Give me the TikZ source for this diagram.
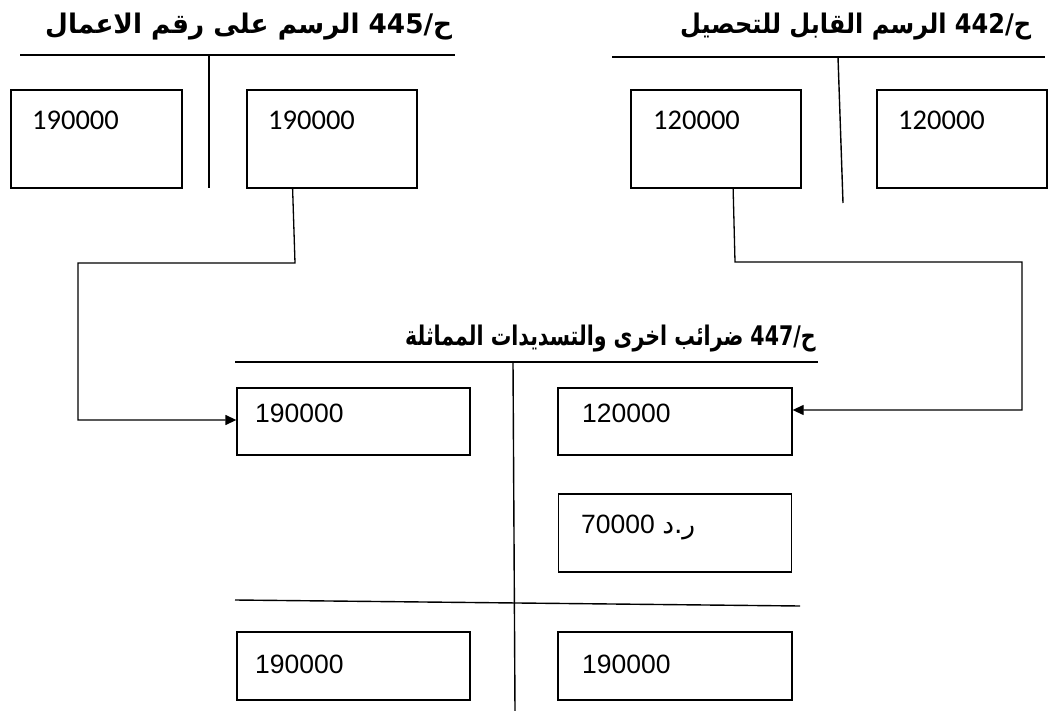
\documentclass[tikz,border=0pt]{standalone}
\usepackage{fontspec}
\usepackage{graphicx}
\setmainfont{Liberation Sans}
\newfontfamily\arab[Script=Arabic]{DejaVu Sans}
\newfontfamily\calfont{Carlito}
\TeXXeTstate=1
\usetikzlibrary{arrows.meta,calc}
\tikzset{
  acct/.style={draw, line width=1.3pt, inner sep=0pt},
  rule/.style={line width=1.4pt},
  conn/.style={line width=1.3pt},
  arr/.style={conn, -{Triangle[length=11pt,width=10pt]}},
  topnum/.style={anchor=base west, inner sep=0pt, font=\calfont\fontsize{28.5}{30}\selectfont},
  midnum/.style={anchor=base west, inner sep=0pt, font=\fontsize{26.5}{28}\selectfont},
  ttl/.style={anchor=base west, inner sep=0pt, font=\arab\bfseries\fontsize{27}{30}\selectfont}
}
\begin{document}
\begin{tikzpicture}[x=1pt,y=-1pt]
\useasboundingbox (0,0) rectangle (1052,711);
% ---------- Account 445 ----------
\node[ttl] (t445) at (45,34) {\scalebox{0.974}[1]{\beginR ح/445 الرسم على رقم الاعمال\endR}};
\coordinate (l445a) at (20,55);
\coordinate (l445b) at (455,55);
\draw[rule] (l445a) -- (l445b);
\coordinate (v445a) at (209,55);
\coordinate (v445b) at (209,188);
\draw[rule] (v445a) -- (v445b);
\node[acct, minimum width=171pt, minimum height=98pt] (b445L) at (96.5,139) {};
\node[acct, minimum width=170pt, minimum height=98pt] (b445R) at (332,139) {};
\node[topnum] (n445L) at (32,130) {190000};
\node[topnum] (n445R) at (268,130) {190000};
% ---------- Account 442 ----------
\node[ttl] (t442) at (680,34) {\scalebox{0.89}[1]{\beginR ح/442 الرسم القابل للتحصيل\endR}};
\coordinate (l442a) at (612,57);
\coordinate (l442b) at (1045,57);
\draw[rule] (l442a) -- (l442b);
\coordinate (v442a) at (838,57);
\coordinate (v442b) at (843,203);
\draw[rule] (v442a) -- (v442b);
\node[acct, minimum width=170pt, minimum height=98pt] (b442L) at (716,139) {};
\node[acct, minimum width=170pt, minimum height=98pt] (b442R) at (962,139) {};
\node[topnum] (n442L) at (653,130) {120000};
\node[topnum] (n442R) at (898,130) {120000};
% ---------- Account 447 ----------
\node[ttl] (t447) at (405,345) {\scalebox{0.76}[1]{\beginR ح/447 ضرائب اخرى والتسديدات المماثلة\endR}};
\coordinate (l447a) at (235,362);
\coordinate (l447b) at (818,362);
\draw[rule] (l447a) -- (l447b);
\coordinate (v447a) at (513,362);
\coordinate (v447b) at (515,711);
\draw[rule] (v447a) -- (v447b);
\coordinate (m447a) at (235,600);
\coordinate (m447b) at (800,606);
\draw[rule] (m447a) -- (m447b);
\node[acct, minimum width=233pt, minimum height=67pt] (d1) at (353.5,421.5) {};
\node[acct, minimum width=234pt, minimum height=67pt] (c1) at (675,421.5) {};
\node[acct, minimum width=233pt, minimum height=78pt] (c2) at (675,533) {};
\node[acct, minimum width=233pt, minimum height=68pt] (d3) at (353.5,666) {};
\node[acct, minimum width=234pt, minimum height=68pt] (c3) at (675,666) {};
\node[midnum] (nd1) at (255,422) {190000};
\node[midnum] (nc1) at (582,422) {120000};
\node[midnum] (nc2) at (581,533) {70000 {\arab ر.د}};
\node[midnum] (nd3) at (255,673) {190000};
\node[midnum] (nc3) at (582,673) {190000};
% ---------- connectors ----------
\coordinate (s445) at ($(b445R.south west)!0.27!(b445R.south east)$);
\coordinate (k1) at (295,263);
\coordinate (k2) at (78,263);
\coordinate (k3) at (78,420);
\draw[arr] (s445) -- (k1) -- (k2) -- (k3) -- (k3 -| d1.west);
\coordinate (s442) at ($(b442L.south west)!0.6!(b442L.south east)$);
\coordinate (q1) at (735,262);
\coordinate (q2) at (1022,262);
\coordinate (q3) at (1022,410);
\draw[arr] (s442) -- (q1) -- (q2) -- (q3) -- (q3 -| c1.east);
\end{tikzpicture}
\end{document}
